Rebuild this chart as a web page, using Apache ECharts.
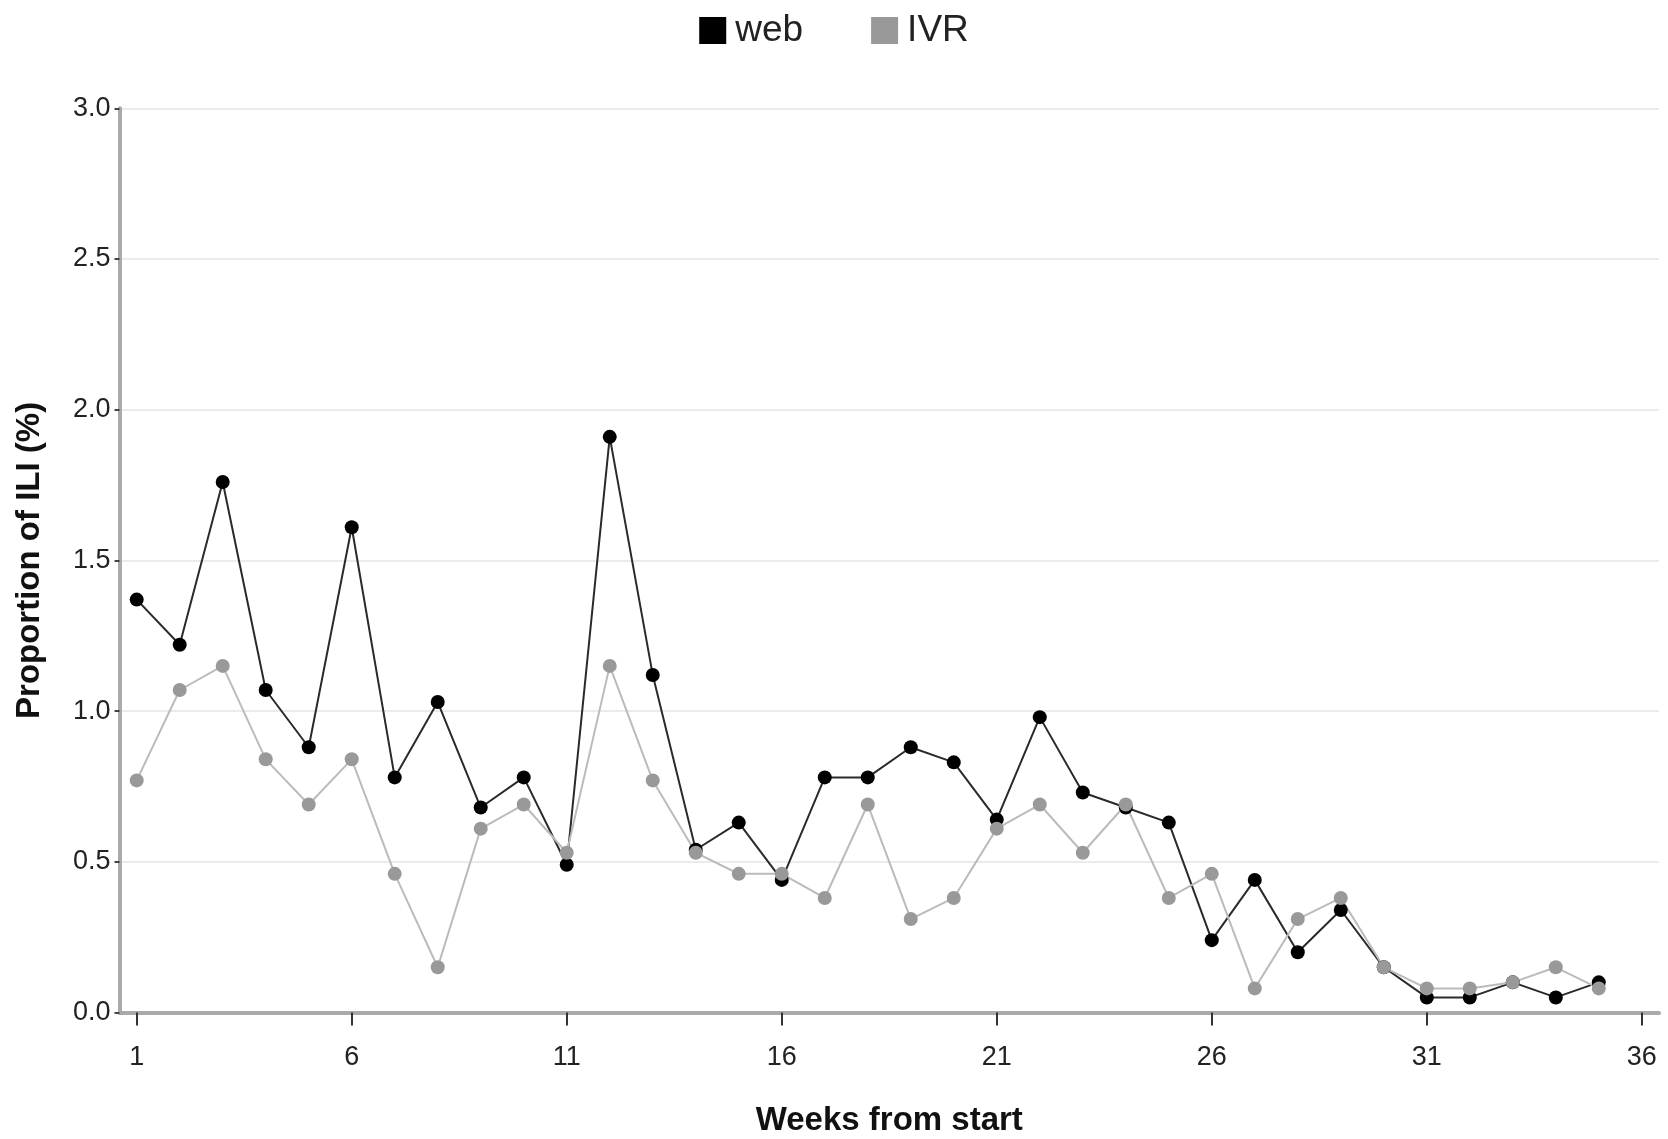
<!DOCTYPE html>
<html>
<head>
<meta charset="utf-8">
<script src="https://cdn.jsdelivr.net/npm/echarts@6/dist/echarts.min.js"></script>
<style>
html,body{margin:0;padding:0;background:#fff;}
#chart{width:1668px;height:1139px;}
</style>
</head>
<body>
<div id="chart"></div>
<script>
const weeks = [1,2,3,4,5,6,7,8,9,10,11,12,13,14,15,16,17,18,19,20,21,22,23,24,25,26,27,28,29,30,31,32,33,34,35];
const webValues = [1.37,1.22,1.76,1.07,0.88,1.61,0.78,1.03,0.68,0.78,0.49,1.91,1.12,0.54,0.63,0.44,0.78,0.78,0.88,0.83,0.64,0.98,0.73,0.68,0.63,0.24,0.44,0.20,0.34,0.15,0.05,0.05,0.10,0.05,0.10];
const ivrValues = [0.77,1.07,1.15,0.84,0.69,0.84,0.46,0.15,0.61,0.69,0.53,1.15,0.77,0.53,0.46,0.46,0.38,0.69,0.31,0.38,0.61,0.69,0.53,0.69,0.38,0.46,0.08,0.31,0.38,0.15,0.08,0.08,0.10,0.15,0.08];
const xTickValues = [1,6,11,16,21,26,31,36];
const seriesNames = ['web','IVR'];

const FONT = "'Liberation Sans', Arial, sans-serif";
const chart = echarts.init(document.getElementById('chart'));
chart.setOption({
  backgroundColor: '#fff',
  animation: false,
  legend: {
    data: seriesNames,
    left: 'center',
    top: 7,
    icon: 'rect',
    itemWidth: 27,
    itemHeight: 27,
    itemGap: 68,
    textStyle: { fontFamily: FONT, fontSize: 37, color: '#222', padding: [0,0,0,4] }
  },
  grid: { left: 119.5, right: 9, top: 108.3, bottom: 126.5, containLabel: false, outerBoundsMode: 'none' },
  xAxis: {
    type: 'value',
    min: 0.6,
    max: 36.4,
    name: 'Weeks from start',
    nameLocation: 'middle',
    nameGap: 92,
    nameTextStyle: { fontFamily: FONT, fontSize: 33, fontWeight: 'bold', color: '#111' },
    axisLine: { show: true, lineStyle: { color: '#aaaaaa', width: 4 } },
    axisTick: { show: true, customValues: xTickValues, length: 13, lineStyle: { color: '#333', width: 2 } },
    axisLabel: { customValues: xTickValues, margin: 32, fontFamily: FONT, fontSize: 27, color: '#222' },
    splitLine: { show: false }
  },
  yAxis: {
    type: 'value',
    min: 0,
    max: 3,
    interval: 0.5,
    name: 'Proportion of ILI (%)',
    nameLocation: 'middle',
    nameGap: 73,
    nameTextStyle: { fontFamily: FONT, fontSize: 33, fontWeight: 'bold', color: '#111' },
    axisLine: { show: true, lineStyle: { color: '#aaaaaa', width: 4 } },
    axisTick: { show: true, length: 5, lineStyle: { color: '#444', width: 2 } },
    axisLabel: { margin: 9, fontFamily: FONT, fontSize: 27, color: '#222', formatter: v => v.toFixed(1) },
    splitLine: { show: true, lineStyle: { color: '#ebebeb', width: 2 } }
  },
  series: [
    {
      name: 'web',
      type: 'line',
      data: weeks.map((w, i) => [w, webValues[i]]),
      symbol: 'circle',
      symbolSize: 14,
      itemStyle: { color: '#000' },
      lineStyle: { color: '#2a2a2a', width: 2 }
    },
    {
      name: 'IVR',
      type: 'line',
      data: weeks.map((w, i) => [w, ivrValues[i]]),
      symbol: 'circle',
      symbolSize: 14,
      itemStyle: { color: '#999999' },
      lineStyle: { color: '#bbbbbb', width: 2 }
    }
  ]
});
</script>
</body>
</html>
